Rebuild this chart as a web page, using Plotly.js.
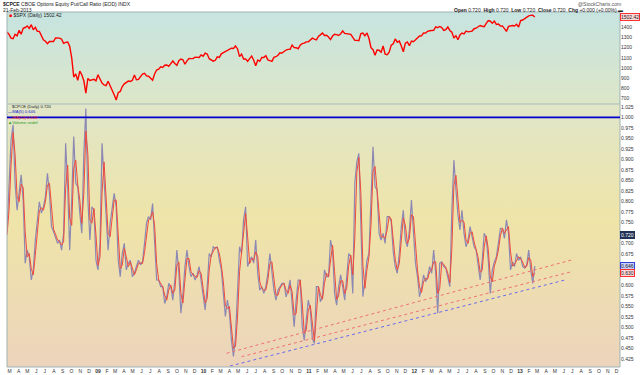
<!DOCTYPE html>
<html><head><meta charset="utf-8">
<script src="https://cdn.plot.ly/plotly-3.0.1.min.js"></script>
<style>
html,body{margin:0;padding:0;background:#fff;}
#wrap{position:relative;width:640px;height:375px;overflow:hidden;}
#bgTop{position:absolute;left:7px;top:12px;width:613px;height:92px;background:linear-gradient(#c6e4e0,#dde6c8);}
#bgBot{position:absolute;left:7px;top:104px;width:613px;height:263px;background:linear-gradient(#e0e6c8 0%,#efe4a8 45%,#ecd4bc 100%);}
#chart{position:absolute;left:0;top:0;width:640px;height:375px;}
</style></head><body>
<div id="wrap"><div id="bgTop"></div><div id="bgBot"></div><div id="chart"></div></div>
<script>
// ---- data (weekly samples, Thursdays from 2008-02-21 to 2013-02-21) ----
const startDate = '2008-02-21';
const stepDays = 7;
const spxClose = [
1353,1331,1294,1288,1330,1316,1370,1332,1390,1398,1414,1389,1426,1375,1400,1361,1360,1318,1278,1262,1239,1261,1257,1260,1296,1298,1293,1283,1242,1252,1255,1213,1099,910,940,877,969,931,873,752,896,876,879,887,873,
932,890,850,832,826,869,827,770,735,683,756,768,816,843,857,870,866,877,929,883,887,919,940,946,921,918,896,879,940,979,987,1010,1004,1026,1029,1016,1042,1068,1044,1025,1071,1087,1080,1036,1069,1093,1091,1091,1106,1106,1102,1127,1115,
1145,1136,1091,1074,1066,1075,1109,1104,1139,1150,1160,1167,1179,1194,1192,1217,1187,1111,1136,1088,1089,1065,1092,1117,1076,1022,1078,1065,1102,1102,1121,1079,1071,1065,1104,1110,1125,1149,1146,1166,1176,1183,1183,1225,1200,1199,1189,1224,1240,1244,1257,1258,
1272,1293,1283,1276,1310,1329,1343,1320,1321,1304,1279,1314,1332,1328,1320,1337,1364,1340,1338,1333,1331,1300,1271,1271,1268,1339,1344,1316,1345,1292,1199,1179,1124,1177,1174,1154,1216,1136,1131,1155,1224,1238,1285,1253,1264,1216,1159,1244,1255,1219,1265,1258,
1278,1289,1315,1316,1345,1343,1361,1366,1370,1371,1404,1397,1408,1398,1370,1378,1403,1369,1353,1295,1318,1278,1325,1343,1335,1362,1355,1357,1363,1386,1391,1406,1418,1411,1407,1438,1466,1460,1441,1461,1429,1433,1412,1414,1380,1360,1409,1416,1418,1413,1430,1402,
1466,1472,1486,1503,1513,1518,1520,1502.42];
const cpceMA5 = [
0.728,0.827,0.946,0.982,0.843,0.779,0.819,0.863,0.803,0.653,
0.684,0.668,0.613,0.637,0.708,0.756,0.799,0.772,0.787,0.811,
0.867,0.819,0.740,0.728,0.716,0.700,0.708,0.684,0.724,0.938,
0.835,0.684,0.803,0.954,0.843,0.835,0.772,0.724,0.914,1.021,
0.803,0.708,0.787,0.779,0.660,0.637,0.700,0.938,0.851,0.764,
0.684,0.748,0.787,0.819,0.787,0.660,0.621,0.676,0.700,0.637,
0.653,0.660,0.621,0.629,0.645,0.660,0.649,0.656,0.700,0.748,
0.764,0.756,0.795,0.692,0.613,0.613,0.597,0.597,0.557,0.573,
0.605,0.597,0.565,0.613,0.684,0.629,0.534,0.581,0.645,0.684,
0.645,0.621,0.629,0.613,0.625,0.645,0.613,0.573,0.542,0.597,
0.676,0.668,0.692,0.688,0.692,0.660,0.637,0.581,0.526,0.565,
0.534,0.470,0.431,0.478,0.573,0.692,0.676,0.756,0.787,0.645,
0.660,0.668,0.653,0.708,0.629,0.589,0.597,0.581,0.597,0.629,
0.676,0.637,0.589,0.565,0.589,0.597,0.605,0.605,0.573,0.589,
0.613,0.557,0.502,0.565,0.613,0.613,0.502,0.470,0.518,0.565,
0.542,0.474,0.462,0.597,0.597,0.561,0.573,0.637,0.621,0.621,
0.708,0.684,0.581,0.553,0.597,0.625,0.597,0.565,0.621,0.676,
0.668,0.581,0.843,0.894,0.914,0.724,0.573,0.613,0.660,0.676,
0.811,0.930,0.835,0.827,0.724,0.708,0.724,0.700,0.764,0.764,
0.752,0.680,0.645,0.629,0.676,0.740,0.779,0.708,0.692,0.732,
0.803,0.724,0.653,0.621,0.573,0.593,0.625,0.609,0.621,0.645,
0.629,0.684,0.629,0.534,0.653,0.656,0.645,0.641,0.617,0.597,
0.779,0.898,0.827,0.768,0.732,0.779,0.724,0.692,0.708,0.740,
0.716,0.692,0.684,0.649,0.613,0.660,0.724,0.712,0.660,0.581,
0.637,0.656,0.668,0.700,0.736,0.736,0.712,0.756,0.724,0.637,
0.656,0.645,0.676,0.660,0.668,0.645,0.641,0.649,0.684,0.637,
0.605,0.646];
const cpceMA10 = [
0.720,0.778,0.886,0.964,0.912,0.811,0.799,0.841,0.833,0.728,
0.668,0.676,0.640,0.625,0.672,0.732,0.777,0.785,0.779,0.799,
0.839,0.843,0.779,0.734,0.722,0.708,0.704,0.696,0.704,0.831,
0.886,0.760,0.743,0.878,0.898,0.839,0.803,0.748,0.819,0.967,
0.912,0.756,0.748,0.783,0.720,0.648,0.668,0.819,0.894,0.808,
0.724,0.716,0.768,0.803,0.803,0.724,0.640,0.648,0.688,0.668,
0.645,0.656,0.640,0.625,0.637,0.652,0.654,0.652,0.678,0.724,
0.756,0.760,0.775,0.743,0.652,0.613,0.605,0.597,0.577,0.565,
0.589,0.601,0.581,0.589,0.648,0.656,0.581,0.558,0.613,0.664,
0.664,0.633,0.625,0.621,0.619,0.635,0.629,0.593,0.558,0.569,
0.637,0.672,0.680,0.690,0.690,0.676,0.648,0.609,0.553,0.545,
0.550,0.502,0.450,0.455,0.525,0.633,0.684,0.716,0.771,0.716,
0.652,0.664,0.660,0.680,0.668,0.609,0.593,0.589,0.589,0.613,
0.652,0.656,0.613,0.577,0.577,0.593,0.601,0.605,0.589,0.581,
0.601,0.585,0.530,0.533,0.589,0.613,0.558,0.486,0.494,0.541,
0.553,0.508,0.468,0.530,0.597,0.579,0.567,0.605,0.629,0.621,
0.664,0.696,0.633,0.567,0.575,0.611,0.611,0.581,0.593,0.648,
0.672,0.625,0.712,0.869,0.904,0.819,0.648,0.593,0.637,0.668,
0.743,0.871,0.883,0.831,0.776,0.716,0.716,0.712,0.732,0.764,
0.758,0.716,0.662,0.637,0.652,0.708,0.760,0.743,0.700,0.712,
0.768,0.764,0.688,0.637,0.597,0.583,0.609,0.617,0.615,0.633,
0.637,0.656,0.656,0.581,0.593,0.654,0.650,0.643,0.629,0.607,
0.688,0.838,0.862,0.797,0.750,0.755,0.751,0.708,0.700,0.724,
0.728,0.704,0.688,0.666,0.631,0.636,0.692,0.718,0.686,0.620,
0.609,0.646,0.662,0.684,0.718,0.736,0.724,0.734,0.740,0.680,
0.646,0.650,0.660,0.668,0.664,0.656,0.643,0.645,0.666,0.660,
0.621,0.630];
const spxLast = 1502.42, cpceClose = 0.720, ma5Last = 0.646, ma10Last = 0.630;
const spxTicks = [700,800,900,1000,1100,1200,1300,1400];
// tick labels that are visible (0.625, 0.650, 0.725 are covered by the value boxes in the reference)
const cpceTicks = [0.425,0.450,0.475,0.500,0.525,0.550,0.575,0.600,0.675,0.700,0.750,0.775,0.800,0.825,0.850,0.875,0.900,0.925,0.950,0.975,1.000,1.025];
const monthLetters = ['J','F','M','A','M','J','J','A','S','O','N','D'];
const yearLabels = {2009:'09',2010:'10',2011:'11',2012:'12',2013:'13'};
// trend lines drawn on the chart (start/end)
const redTrendA_dates = ['2010-03-22','2013-06-28'], redTrendA_vals = [0.4386,0.6605];
const redTrendB_dates = ['2010-05-13','2013-06-28'], redTrendB_vals = [0.4305,0.6327];
const blueTrend_dates = ['2010-04-03','2013-06-05'], blueTrend_vals = [0.4083,0.6129];
const refLevel = 1.0;

// ---- build ----
const t0 = Date.parse(startDate+'T00:00:00Z');
const dates = spxClose.map((_,i)=>new Date(t0 + i*stepDays*86400000).toISOString().slice(0,10));
const tickvals=[], ticktext=[];
for(let y=2008;y<=2013;y++){for(let m=0;m<12;m++){ if(y===2008&&m<2) continue;
  tickvals.push(y+'-'+String(m+1).padStart(2,'0')+'-01');
  ticktext.push(m===0 ? '<b>'+yearLabels[y]+'</b>' : monthLetters[m]); }}

const W=640,H=375,L=7,R=620,T=12,B=367,SEP=104;
const px = X => (X-L)/(R-L), py = Y => (B-Y)/(B-T);
const dom = py(SEP);
const F = 'Arial, Liberation Sans, sans-serif';

const traces = [
 {x:dates,y:spxClose,type:'scatter',mode:'lines',xaxis:'x',yaxis:'y',line:{color:'#ff0000',width:1.4},hoverinfo:'skip'},
 {x:dates,y:cpceMA5,type:'scatter',mode:'lines',xaxis:'x',yaxis:'y2',line:{color:'#8c88b4',width:1.2},hoverinfo:'skip'},
 {x:dates,y:cpceMA10,type:'scatter',mode:'lines',xaxis:'x',yaxis:'y2',line:{color:'#f04a3c',width:1},hoverinfo:'skip'},
 {x:redTrendA_dates,y:redTrendA_vals,type:'scatter',mode:'lines',yaxis:'y2',line:{color:'#f07070',width:1,dash:'dot'}},
 {x:redTrendB_dates,y:redTrendB_vals,type:'scatter',mode:'lines',yaxis:'y2',line:{color:'#f07070',width:1,dash:'dot'}},
 {x:blueTrend_dates,y:blueTrend_vals,type:'scatter',mode:'lines',yaxis:'y2',line:{color:'#6a6af0',width:1,dash:'dot'}}
];

const ann = [];
function A(text,X,Y,opts){ann.push(Object.assign({text:text,xref:'paper',yref:'paper',x:px(X),y:py(Y),xanchor:'left',yanchor:'middle',showarrow:false,font:{family:F,size:5,color:'#222'},borderpad:0},opts||{}));}
A('<b>$CPCE</b> CBOE Options Equity Put/Call Ratio (EOD) INDX',2,3.5,{font:{family:F,size:5,color:'#222'}});
A('21-Feb-2013',2,9.5);
A('@StockCharts.com',622,3.5,{xanchor:'right',font:{family:F,size:5,color:'#555'}});
A('<b>Open</b> 0.720  <b>High</b> 0.720  <b>Low</b> 0.720  <b>Close</b> 0.720  <b>Chg</b> +0.000 (+0.00%) ▬',624,9.5,{xanchor:'right'});
A('<span style="color:#ff0000">■</span> $SPX (Daily) 1502.42',7.5,15);
const lf = 4.2;
A('$CPCE (Daily) 0.720',11,107,{font:{family:F,size:lf,color:'#222'}});
A('<span style="color:#0000cc">—</span>MA(5) 0.646',7,112,{font:{family:F,size:lf,color:'#2222cc'}});
A('<span style="color:#ff0000">—</span>MA(10) 0.630',7,117,{font:{family:F,size:lf,color:'#ee2222'}});
A('▲Volume undef',7,122,{font:{family:F,size:lf,color:'#2a9a2a'}});
// right-axis value boxes
function box(text,yref,val,bg,bd,fc){ann.push({text:text,xref:'paper',yref:yref,x:1.0,y:val,xanchor:'left',yanchor:'middle',xshift:0,showarrow:false,bgcolor:bg,bordercolor:bd,borderwidth:1,borderpad:0,font:{family:F,size:5,color:fc}});}
box(spxLast.toFixed(2),'y',spxLast,'#ffd8d8','#ff3030','#222');
box(cpceClose.toFixed(3),'y2',cpceClose,'#223355','#223355','#ffffff');
box(ma5Last.toFixed(3),'y2',ma5Last,'#c8d0ff','#3344dd','#222');
box(ma10Last.toFixed(3),'y2',ma10Last,'#ffd8d8','#ff3030','#222');

const layout = {
 width:W,height:H,margin:{l:L,r:W-R,t:T,b:H-B,pad:0},
 paper_bgcolor:'rgba(0,0,0,0)',plot_bgcolor:'rgba(0,0,0,0)',showlegend:false,
 xaxis:{type:'date',range:['2008-02-21','2013-12-13'],anchor:'y2',tickvals:tickvals,ticktext:ticktext,tickangle:0,
   tickfont:{family:F,size:5,color:'#333'},ticks:'',showgrid:false,zeroline:false,showline:false},
 yaxis:{domain:[dom,1],range:[644,1551],side:'right',anchor:'x',tickvals:spxTicks,ticktext:spxTicks.map(String),
   tickfont:{family:F,size:5,color:'#333'},ticks:'',showgrid:false,zeroline:false},
 yaxis2:{domain:[0,dom],range:[0.406,1.0316],side:'right',anchor:'x',tickvals:cpceTicks,ticktext:cpceTicks.map(v=>v.toFixed(3)),
   tickfont:{family:F,size:5,color:'#333'},ticks:'',showgrid:false,zeroline:false},
 shapes:[
  {type:'rect',xref:'paper',yref:'paper',x0:0,x1:1,y0:0,y1:1,line:{color:'#9fb3b3',width:1}},
  {type:'line',xref:'paper',yref:'paper',x0:0,x1:1,y0:dom,y1:dom,line:{color:'#a8bcbc',width:1}},
  {type:'line',xref:'paper',yref:'y2',x0:0,x1:1,y0:refLevel,y1:refLevel,line:{color:'#0000d0',width:1.8}}
 ],
 annotations:ann
};
Plotly.newPlot('chart',traces,layout,{staticPlot:true,displayModeBar:false});
</script>
</body></html>
